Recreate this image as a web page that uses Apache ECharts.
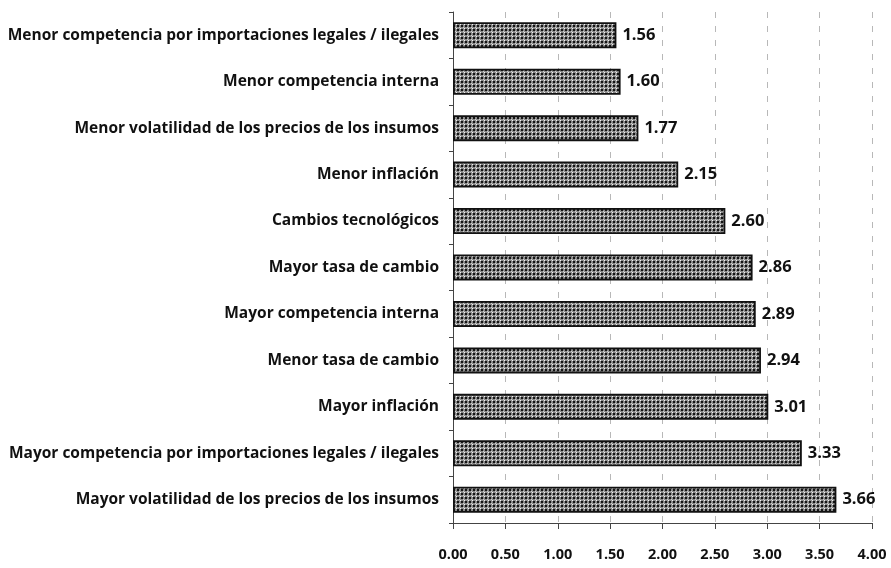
<!DOCTYPE html>
<html>
<head>
<meta charset="utf-8">
<script src="https://cdn.jsdelivr.net/npm/echarts@6/dist/echarts.min.js"></script>
<style>
  html, body { margin: 0; padding: 0; background: #fff; }
  #chart { width: 891px; height: 568px; }
</style>
</head>
<body>
<div id="chart"></div>
<script>
// Factors, listed bottom to top as drawn on the category axis
const categories = [
  'Mayor volatilidad de los precios de los insumos',
  'Mayor competencia por importaciones legales / ilegales',
  'Mayor inflación',
  'Menor tasa de cambio',
  'Mayor competencia interna',
  'Mayor tasa de cambio',
  'Cambios tecnológicos',
  'Menor inflación',
  'Menor volatilidad de los precios de los insumos',
  'Menor competencia interna',
  'Menor competencia por importaciones legales / ilegales'
];
const values = [3.66, 3.33, 3.01, 2.94, 2.89, 2.86, 2.60, 2.15, 1.77, 1.60, 1.56];
const axisMin = 0, axisMax = 4, axisStep = 0.5;

// Cross-hatch fill tile: dark blocks on grey with white dots
function makeTile() {
  const c = document.createElement('canvas');
  c.width = 4; c.height = 4;
  const g = c.getContext('2d');
  g.fillStyle = '#8a8a8a';
  g.fillRect(0, 0, 4, 4);
  g.fillStyle = '#141414';
  g.fillRect(1, 1, 2, 2);
  g.fillStyle = '#f4f4f4';
  g.fillRect(0, 0, 1, 1);
  g.fillStyle = '#cfcfcf';
  g.fillRect(3, 3, 1, 1);
  return c;
}

const chart = echarts.init(document.getElementById('chart'), null, { renderer: 'canvas' });
const fontFam = '"Open Sans", Lato, sans-serif';

chart.setOption({
  animation: false,
  backgroundColor: '#ffffff',
  grid: { left: 453, right: 19, top: 12, bottom: 45, containLabel: false },
  xAxis: {
    type: 'value',
    min: axisMin, max: axisMax, interval: axisStep,
    axisLine: { show: true, lineStyle: { color: '#444', width: 1 } },
    axisTick: { show: true, length: 6, lineStyle: { color: '#444' } },
    axisLabel: {
      margin: 24,
      color: '#111', fontFamily: fontFam, fontWeight: 'bold', fontSize: 14.5,
      formatter: v => v.toFixed(2)
    },
    splitLine: { show: true, lineStyle: { color: '#b8b8b8', type: [6, 8], width: 1 } }
  },
  yAxis: {
    type: 'category',
    data: categories,
    axisLine: { show: true, lineStyle: { color: '#444', width: 1 } },
    axisTick: { show: true, length: 4, alignWithLabel: false, lineStyle: { color: '#444' } },
    axisLabel: {
      margin: 14,
      color: '#111', fontFamily: fontFam, fontWeight: 'bold', fontSize: 15.5
    },
    splitLine: { show: false }
  },
  series: [{
    type: 'bar',
    data: values,
    barCategoryGap: '44%',
    itemStyle: {
      color: { image: makeTile(), repeat: 'repeat' },
      borderColor: '#111', borderWidth: 1.8
    },
    label: {
      show: true, position: 'right', distance: 6,
      color: '#111', fontFamily: fontFam, fontWeight: 'bold', fontSize: 16.5,
      formatter: p => p.value.toFixed(2)
    }
  }]
});
</script>
</body>
</html>
